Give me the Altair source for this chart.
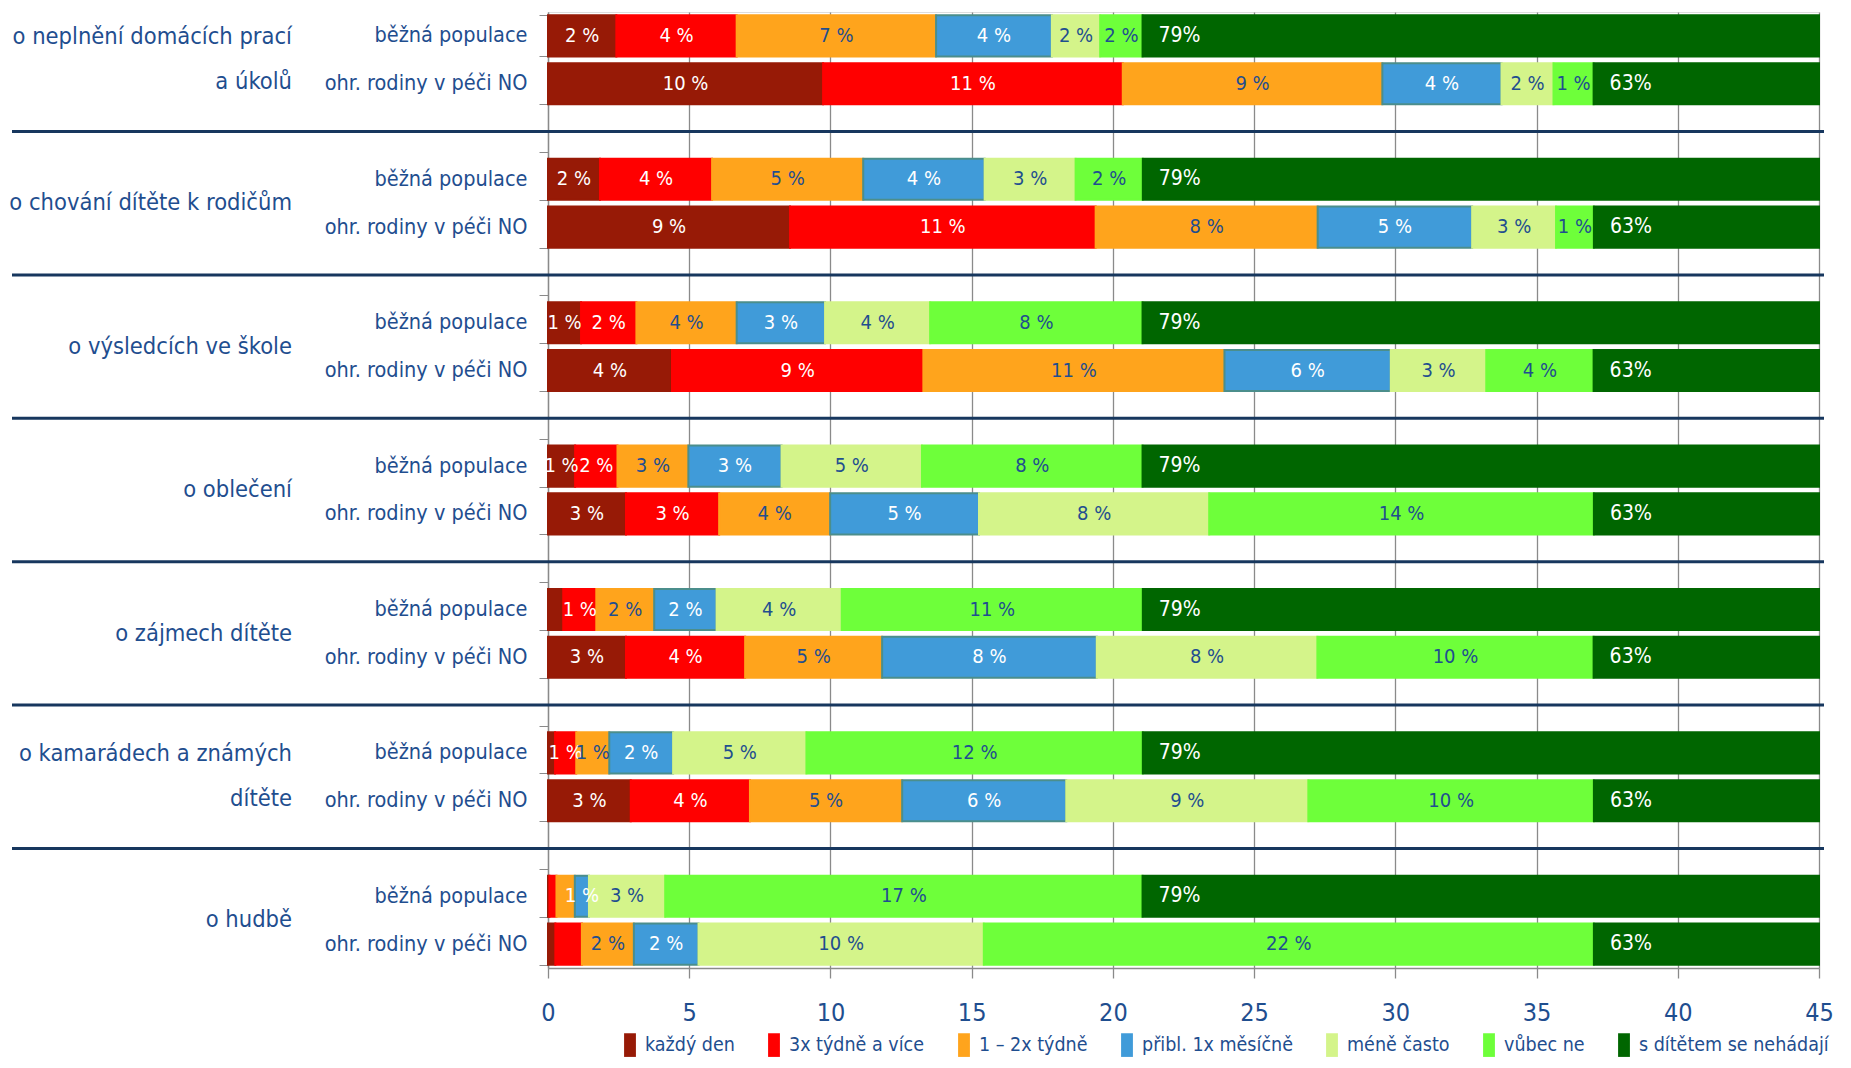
import altair as alt
import pandas as pd

FONT = "DejaVu Sans Condensed, Roboto, sans-serif"
TXT = "#1F4E8F"
GRID = "#8a8a8a"

CATEGORIES = [
    "o neplnění domácích prací\na úkolů",
    "o chování dítěte k rodičům",
    "o výsledcích ve škole",
    "o oblečení",
    "o zájmech dítěte",
    "o kamarádech a známých\ndítěte",
    "o hudbě",
]
GROUPS = ["běžná populace", "ohr. rodiny v péči NO"]
SERIES = ["každý den", "3x týdně a více", "1 – 2x týdně", "přibl. 1x měsíčně",
          "méně často", "vůbec ne", "s dítětem se nehádají"]
COLORS = ["#971A06", "#FF0000", "#FFA41C", "#409BD9", "#D4F48A", "#6EFF3A", "#006600"]
STROKES = ["#971A06", "#FF0000", "#FFA41C", "#4B8E8C", "#D4F48A", "#6EFF3A", "#006600"]
LABEL_COLORS = ["white", "white", TXT, "white", TXT, TXT, "white"]

BEZNA = [
    [2.42, 4.26, 7.06, 4.10, 1.71, 1.50],
    [1.84, 3.97, 5.35, 4.30, 3.22, 2.38],
    [1.17, 1.96, 3.55, 3.13, 3.72, 7.52],
    [0.96, 1.50, 2.51, 3.30, 4.97, 7.81],
    [0.54, 1.17, 2.05, 2.21, 4.43, 10.66],
    [0.25, 0.75, 1.17, 2.26, 4.72, 11.91],
    [0.05, 0.25, 0.65, 0.50, 2.70, 16.90],
]
OHR = [
    [9.74, 10.61, 9.19, 4.22, 1.84, 1.42],
    [8.57, 10.82, 7.86, 5.47, 2.97, 1.34],
    [4.39, 8.90, 10.66, 5.89, 3.38, 3.80],
    [2.76, 3.30, 3.93, 5.27, 8.15, 13.62],
    [2.76, 4.22, 4.85, 7.60, 7.81, 9.78],
    [2.93, 4.22, 5.39, 5.81, 8.57, 10.11],
    [0.26, 0.94, 1.84, 2.29, 10.10, 21.60],
]
NEHADAJI = [79, 63]
BEZNA_LABELS = [
    [2, 4, 7, 4, 2, 2],
    [2, 4, 5, 4, 3, 2],
    [1, 2, 4, 3, 4, 8],
    [1, 2, 3, 3, 5, 8],
    [None, 1, 2, 2, 4, 11],
    [None, 1, 1, 2, 5, 12],
    [None, None, None, 1, 3, 17],
]
OHR_LABELS = [
    [10, 11, 9, 4, 2, 1],
    [9, 11, 8, 5, 3, 1],
    [4, 9, 11, 6, 3, 4],
    [3, 3, 4, 5, 8, 14],
    [3, 4, 5, 8, 8, 10],
    [3, 4, 5, 6, 9, 10],
    [None, None, 2, 2, 10, 22],
]

# ---- build tables ----
SLOTS = []
for ci in range(len(CATEGORIES)):
    SLOTS.append(f"{ci}|{GROUPS[0]}")
    SLOTS.append(f"{ci}|{GROUPS[1]}")
    if ci < len(CATEGORIES) - 1:
        SLOTS.append(f"{ci}|gap")

bars, seg_labels, rest_labels = [], [], []
for ci in range(len(CATEGORIES)):
    for gi, (vals, labs) in enumerate([(BEZNA, BEZNA_LABELS), (OHR, OHR_LABELS)]):
        slot = f"{ci}|{GROUPS[gi]}"
        start = 0.0
        for si, v in enumerate(vals[ci]):
            end = start + v
            bars.append(dict(slot=slot, series=SERIES[si], start=start, end=end))
            lab = labs[ci][si]
            if lab is not None:
                seg_labels.append(dict(slot=slot, mid=(start + end) / 2,
                                       text=f"{lab} %", tc=LABEL_COLORS[si]))
            start = end
        rest = NEHADAJI[gi]
        bars.append(dict(slot=slot, series=SERIES[6], start=start, end=start + rest))
        rest_labels.append(dict(slot=slot, mid=start, text=f"{rest}%"))

bars_df = pd.DataFrame(bars)
seg_df = pd.DataFrame(seg_labels)
rest_df = pd.DataFrame(rest_labels)
cat_single = pd.DataFrame({"slot": [f"{ci}|{GROUPS[0]}" for ci, c in enumerate(CATEGORIES) if "\n" not in c],
                           "text": [c for c in CATEGORIES if "\n" not in c]})
cat_multi = pd.DataFrame({"slot": [f"{ci}|{GROUPS[0]}" for ci, c in enumerate(CATEGORIES) if "\n" in c],
                          "text": [c for c in CATEGORIES if "\n" in c]})
sep_df = pd.DataFrame({"slot": [s for s in SLOTS if s.endswith("|gap")]})

W, H = 1271, 956

yscale = alt.Scale(domain=SLOTS, paddingInner=0.14, paddingOuter=0.07)
yaxis = alt.Axis(title=None, tickBand="extent", ticks=True, tickSize=9, tickColor=GRID,
                 domainColor=GRID, domainWidth=1.3, labelFontSize=21.5, labelColor=TXT,
                 labelFont=FONT, labelPadding=12, labelLimit=400, grid=False,
                 labelExpr="split(datum.value, '|')[1] == 'gap' ? '' : split(datum.value, '|')[1]")
Y = alt.Y("slot:N", scale=yscale, axis=yaxis, sort=SLOTS)

xscale = alt.Scale(domain=[0, 45], nice=False, clamp=True)
xaxis = alt.Axis(title=None, values=list(range(0, 46, 5)), grid=True, gridColor=GRID,
                 gridWidth=1.3, domainColor=GRID, domainWidth=1.3, tickColor=GRID,
                 tickSize=10, tickWidth=1.3, labelFontSize=25, labelColor=TXT,
                 labelFont=FONT, labelPadding=22, labelFlush=False)

bar_layer = alt.Chart(bars_df).mark_bar(strokeWidth=2).encode(
    y=Y,
    x=alt.X("start:Q", scale=xscale, axis=xaxis),
    x2="end:Q",
    color=alt.Color("series:N", scale=alt.Scale(domain=SERIES, range=COLORS),
                    legend=alt.Legend(title=None, orient="none", legendX=70, legendY=1021,
                                      direction="horizontal", columns=7,
                                      symbolType="M-0.5,-1H0.5V1H-0.5Z", symbolSize=560,
                                      symbolStrokeWidth=0, labelFontSize=19.5,
                                      labelColor=TXT, labelFont=FONT, labelLimit=400,
                                      labelOffset=3, columnPadding=27)),
    stroke=alt.Stroke("series:N", scale=alt.Scale(domain=SERIES, range=STROKES), legend=None),
)

seg_layer = alt.Chart(seg_df).mark_text(fontSize=20, font=FONT, baseline="middle",
                                        align="center").encode(
    y=Y,
    x=alt.X("mid:Q", scale=xscale),
    text="text:N",
    color=alt.Color("tc:N", scale=None),
)

rest_layer = alt.Chart(rest_df).mark_text(fontSize=21, font=FONT, baseline="middle",
                                          align="left", dx=16, color="white").encode(
    y=Y,
    x=alt.X("mid:Q", scale=xscale),
    text="text:N",
)

cat_single_layer = alt.Chart(cat_single).mark_text(fontSize=23.5, font=FONT, baseline="middle",
                                                   align="right", dy=24, color=TXT).encode(
    y=Y,
    x=alt.value(-256),
    text="text:N",
)

cat_multi_layer = alt.Chart(cat_multi).mark_text(fontSize=23.5, font=FONT, baseline="middle",
                                                 align="right", dy=1, lineBreak="\n",
                                                 lineHeight=45, color=TXT).encode(
    y=Y,
    x=alt.value(-256),
    text="text:N",
)

sep_layer = alt.Chart(sep_df).mark_rule(color="#17375E", strokeWidth=3).encode(
    y=Y,
    x=alt.value(-536),
    x2=alt.value(W + 5),
)

chart = alt.layer(bar_layer, seg_layer, rest_layer, cat_single_layer, cat_multi_layer,
                  sep_layer).properties(
    width=W, height=H,
    autosize=alt.AutoSizeParams(type="none"),
    padding={"left": 540, "top": 4, "right": 24, "bottom": 92},
).configure_view(strokeWidth=0).configure(font=FONT)

chart.save("out.html", embed_options={"renderer": "svg", "actions": False})
